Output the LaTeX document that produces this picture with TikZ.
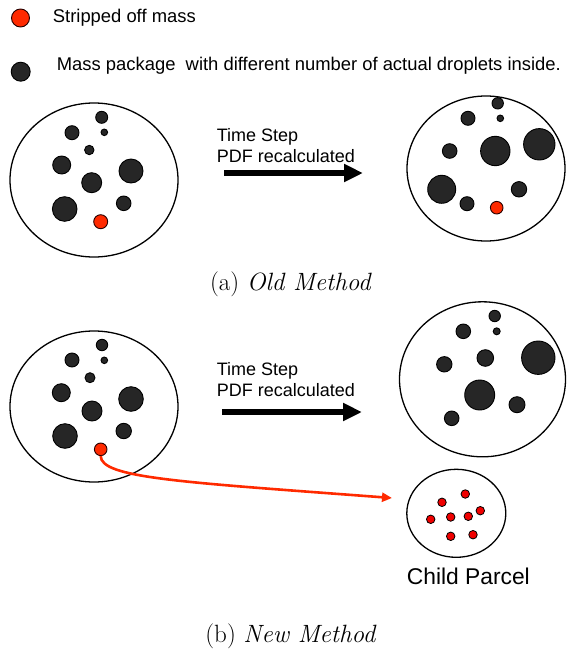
\documentclass[tikz,border=0pt]{standalone}
\usepackage{fontspec}
\newfontfamily\arialfont{Liberation Sans}
\usetikzlibrary{shapes.geometric,arrows.meta}
\definecolor{dropgrey}{HTML}{262626}
\definecolor{stripred}{HTML}{FF2A00}
\definecolor{childred}{HTML}{F00000}
\tikzset{
  parcel/.style={ellipse, draw=black, line width=1.3pt, inner sep=0pt},
  drop/.style={circle, draw=black, fill=dropgrey, line width=0.9pt, inner sep=0pt},
  sdrop/.style={circle, draw=black!85!red, fill=stripred, line width=0.9pt, inner sep=0pt},
  cdrop/.style={circle, draw=black, fill=childred, line width=0.8pt, inner sep=0pt, minimum size=8.5pt},
  lbl/.style={font=\arialfont\fontsize{18}{21}\selectfont, inner sep=0pt, anchor=base west},
  leglbl/.style={lbl, font=\arialfont\fontsize{18.4}{21}\selectfont},
  capt/.style={font=\fontsize{25}{29}\selectfont, inner sep=0pt, anchor=base},
  tstep/.style={-{Triangle[length=19pt,width=17pt]}, line width=5.5pt},
  stripflow/.style={-{Triangle[length=10pt,width=9pt]}, line width=2.6pt, draw=stripred},
}

\begin{document}
\begin{tikzpicture}[x=1pt, y=-1pt]
    \useasboundingbox (0,0) rectangle (566,651);
    % legend
    \node[sdrop, minimum size=18pt] (legred) at (20.5,18) {};
    \node[leglbl] (legredtxt) at (52.7,22.7) {Stripped off mass};
    \node[drop, minimum size=19pt] (legdark) at (20.7,71.7) {};
    \node[leglbl] (legdarktxt) at (56.7,70) {Mass package\ \ with different number of actual droplets inside.};
    % (a) old method
    \node[parcel, minimum width=168pt, minimum height=154pt] (oldA) at (94,180) {};
    \node[parcel, minimum width=158pt, minimum height=145pt] (oldB) at (486,168.5) {};
    \foreach \x/\y/\d [count=\i] in {101.7/117.3/12, 104.3/132.3/6.6, 72/132.7/14, 89.3/150/9.4,
        61.7/165/18, 131/171/24, 91.7/182.7/20, 64.7/209/24.6, 123.7/203.3/14.6}
      \node[drop, minimum size=\d pt] (oa\i) at (\x,\y) {};
    \node[sdrop, minimum size=14pt] (oldAred) at (100.7,221.7) {};
    \foreach \x/\y/\d [count=\i] in {497.7/103.3/11.4, 500.3/118.3/6.6, 468/118.3/14, 449.7/151/14.6,
        495.3/151/29.4, 539.3/144.3/31.4, 441.7/189.3/28, 467/203.7/14, 519/189.3/15.4}
      \node[drop, minimum size=\d pt] (ob\i) at (\x,\y) {};
    \node[sdrop, minimum size=12.6pt] (oldBred) at (496.7,207.7) {};
    \node[lbl] (tsA) at (216.7,141.7) {Time Step};
    \node[lbl] (pdfA) at (216.7,162.7) {PDF recalculated};
    \coordinate (tsAfrom) at (224,173);
    \coordinate (tsAto) at (363,173);
    \draw[tstep] (tsAfrom) -- (tsAto);
    \node[capt] (capA) at (291,290) {(a) \textit{Old Method}};
    % (b) new method
    \node[parcel, minimum width=168pt, minimum height=151pt] (newA) at (94,406.5) {};
    \node[parcel, minimum width=166pt, minimum height=155pt] (newB) at (482.5,379.3) {};
    \foreach \x/\y/\d [count=\i] in {102/345/11.4, 104.3/360.3/6.6, 72/360/14, 90/377.7/10,
        61.3/392.7/18, 131/399/24.6, 92/411/20, 65/436/24.6, 123.7/431/15.4}
      \node[drop, minimum size=\d pt] (na\i) at (\x,\y) {};
    \node[sdrop, minimum size=12.6pt] (newAred) at (100.7,449.3) {};
    \foreach \x/\y/\d [count=\i] in {494.7/316/11.4, 496.7/331.3/7, 463.3/331.3/14.6, 444.3/364.3/15.4,
        485.3/358/16.6, 538.3/357.7/33.4, 479.7/395/30, 517/404.7/16, 451.7/418.3/14.6}
      \node[drop, minimum size=\d pt] (nb\i) at (\x,\y) {};
    \node[lbl] (tsB) at (216.7,375) {Time Step};
    \node[lbl] (pdfB) at (216.7,396.7) {PDF recalculated};
    \coordinate (tsBfrom) at (222,412);
    \coordinate (tsBto) at (362,412);
    \draw[tstep] (tsBfrom) -- (tsBto);
    % child parcel
    \node[parcel, minimum width=99pt, minimum height=88pt] (child) at (456.3,513.3) {};
    \foreach \x/\y [count=\i] in {465.3/494, 442/502.3, 480.3/510.7, 430.7/519.3,
        450.7/517, 468.3/516.3, 450.7/536.3, 473/534.7}
      \node[cdrop] (cd\i) at (\x,\y) {};
    \node[lbl, font=\arialfont\fontsize{22.8}{26}\selectfont] (childtxt) at (406.7,584) {Child Parcel};
    \coordinate (childin) at (392,498);
    \draw[stripflow] (newAred.south) .. controls (101,478) and (180,482) .. (childin);
    \node[capt] (capB) at (291,642.7) {(b) \textit{New Method}};
\end{tikzpicture}
\end{document}
